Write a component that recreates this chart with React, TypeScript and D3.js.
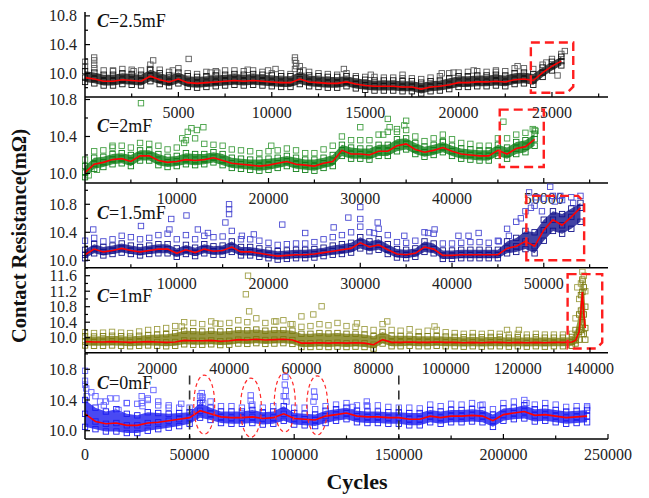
import { scaleLinear, line, area } from "d3";

const W = 649;
const H = 498;
const LEFT = 85;
const RIGHT = 608;
const SERIF = "'Liberation Serif', 'Times New Roman', serif";

// ---- C = 2.5 mF (sampled every 500 cycles) ----
const c25Step = 500;
const c25Mean = [
  9.94, 9.92, 9.89, 9.89, 9.91, 9.9, 9.89, 9.96, 9.91, 9.88,
  9.92, 9.87, 9.86, 9.87, 9.88, 9.89, 9.9, 9.89, 9.9, 9.89,
  9.88, 9.87, 9.87, 9.92, 9.88, 9.87, 9.86, 9.86, 9.88, 9.85,
  9.83, 9.82, 9.82, 9.82, 9.81, 9.81, 9.78, 9.81, 9.82, 9.84,
  9.87, 9.87, 9.88, 9.88, 9.89, 9.88, 9.91, 9.92, 9.9, 10.01,
  10.1, 10.17,
];
const c25Lo = [
  9.88, 9.86, 9.83, 9.83, 9.85, 9.84, 9.83, 9.89, 9.85, 9.82,
  9.86, 9.81, 9.8, 9.81, 9.82, 9.83, 9.84, 9.83, 9.84, 9.83,
  9.82, 9.81, 9.81, 9.85, 9.82, 9.81, 9.8, 9.8, 9.82, 9.79,
  9.77, 9.76, 9.76, 9.76, 9.75, 9.75, 9.72, 9.75, 9.76, 9.78,
  9.81, 9.81, 9.82, 9.82, 9.83, 9.82, 9.85, 9.86, 9.84, 9.95,
  10.04, 10.11,
];
const c25Hi = [
  10.03, 10.01, 9.98, 9.98, 10.0, 9.99, 9.98, 10.05, 10.0, 9.97,
  10.01, 9.96, 9.95, 9.96, 9.97, 9.98, 9.99, 9.98, 9.99, 9.98,
  9.97, 9.96, 9.96, 10.02, 9.97, 9.96, 9.95, 9.95, 9.96, 9.93,
  9.91, 9.9, 9.9, 9.9, 9.89, 9.89, 9.87, 9.89, 9.9, 9.93,
  9.96, 9.96, 9.97, 9.97, 9.98, 9.97, 10.0, 10.01, 9.99, 10.08,
  10.16, 10.23,
];
const c25Top = [
  10.1, 10.07, 10.04, 10.03, 10.06, 10.05, 10.04, 10.12, 10.05, 10.02,
  10.07, 10.0, 9.99, 10.02, 10.03, 10.04, 10.04, 10.03, 10.04, 10.02,
  10.0, 10.0, 9.99, 10.1, 10.02, 10.0, 9.99, 9.98, 10.0, 9.96,
  9.95, 9.95, 9.94, 9.94, 9.93, 9.93, 9.92, 9.94, 9.96, 10.0,
  10.01, 10.02, 10.03, 10.02, 10.04, 10.03, 10.07, 10.07, 10.06, 10.12,
  10.2, 10.27,
];
const c25Out = [
  [0, 10.16], [490, 10.22], [490, 10.18], [490, 10.12], [1500, 10.04], [2600, 10.03],
  [3470, 10.06], [3650, 10.18], [4700, 10.04], [5550, 10.2], [6720, 10.01], [7080, 10.01],
  [8710, 10.05], [9800, 10.04], [10200, 10.06], [11240, 10.22], [11240, 10.18], [11300, 10.14],
  [11300, 10.1], [11240, 10.06], [11690, 10.04], [13860, 10.06], [15300, 9.98], [17000, 9.98],
  [19100, 10.0], [19730, 10.01], [20810, 10.04], [22000, 10.02], [23160, 10.1], [24700, 10.15],
  [25300, 9.97], [25690, 10.31],
];
const c25Box = [23870, 26140, 10.43, 9.73];

// ---- C = 2 mF (every 1000 cycles) ----
const c2Step = 1000;
const c2Mean = [
  10.01, 10.1, 10.12, 10.15, 10.16, 10.13, 10.19, 10.19, 10.14, 10.12,
  10.13, 10.15, 10.14, 10.15, 10.17, 10.14, 10.11, 10.1, 10.09, 10.08,
  10.09, 10.11, 10.13, 10.1, 10.09, 10.08, 10.11, 10.13, 10.25, 10.21,
  10.21, 10.2, 10.24, 10.24, 10.3, 10.32, 10.26, 10.23, 10.25, 10.28,
  10.24, 10.21, 10.2, 10.19, 10.19, 10.25, 10.21, 10.27, 10.29, 10.37,
];
const c2Lo = [
  9.96, 10.05, 10.07, 10.1, 10.11, 10.08, 10.14, 10.14, 10.09, 10.07,
  10.08, 10.1, 10.09, 10.1, 10.12, 10.09, 10.06, 10.05, 10.04, 10.03,
  10.04, 10.06, 10.08, 10.05, 10.04, 10.03, 10.06, 10.08, 10.19, 10.16,
  10.16, 10.15, 10.19, 10.19, 10.24, 10.26, 10.21, 10.18, 10.2, 10.23,
  10.19, 10.16, 10.15, 10.14, 10.14, 10.19, 10.16, 10.21, 10.23, 10.3,
];
const c2Hi = [
  10.08, 10.17, 10.18, 10.21, 10.22, 10.2, 10.25, 10.25, 10.21, 10.18,
  10.19, 10.22, 10.21, 10.21, 10.23, 10.21, 10.17, 10.16, 10.15, 10.15,
  10.16, 10.17, 10.19, 10.17, 10.15, 10.15, 10.17, 10.2, 10.31, 10.28,
  10.27, 10.27, 10.31, 10.31, 10.37, 10.38, 10.33, 10.29, 10.31, 10.34,
  10.3, 10.27, 10.26, 10.25, 10.25, 10.31, 10.28, 10.34, 10.36, 10.43,
];
const c2Top = [
  10.15, 10.24, 10.25, 10.28, 10.3, 10.28, 10.33, 10.32, 10.3, 10.26,
  10.28, 10.36, 10.38, 10.32, 10.31, 10.3, 10.26, 10.25, 10.24, 10.22,
  10.24, 10.25, 10.27, 10.25, 10.22, 10.22, 10.26, 10.3, 10.4, 10.36,
  10.36, 10.36, 10.42, 10.45, 10.48, 10.47, 10.4, 10.35, 10.38, 10.42,
  10.37, 10.33, 10.32, 10.3, 10.3, 10.38, 10.38, 10.42, 10.44, 10.47,
];
const c2Out = [
  [400, 9.98], [1300, 10.04], [3000, 10.3], [6100, 10.76], [10600, 10.38], [10800, 10.33],
  [11200, 10.45], [11600, 10.49], [12200, 10.47], [12900, 10.5], [20300, 10.3], [30000, 10.5],
  [32500, 10.42], [33000, 10.59], [33200, 10.5], [34000, 10.45], [34800, 10.52], [35000, 10.57],
  [39000, 10.35], [45600, 10.56], [48800, 10.48], [49100, 10.46],
];
const c2Box = [45200, 50000, 10.69, 10.07];

// ---- C = 1.5 mF (every 1000 cycles) ----
const c15Step = 1000;
const c15Mean = [
  10.08, 10.16, 10.12, 10.14, 10.17, 10.14, 10.12, 10.14, 10.16, 10.16,
  10.1, 10.15, 10.11, 10.16, 10.13, 10.14, 10.19, 10.12, 10.12, 10.1,
  10.08, 10.06, 10.07, 10.08, 10.08, 10.09, 10.11, 10.13, 10.15, 10.17,
  10.25, 10.19, 10.22, 10.15, 10.09, 10.08, 10.1, 10.19, 10.16, 10.07,
  10.07, 10.08, 10.08, 10.08, 10.08, 10.08, 10.17, 10.2, 10.27, 10.2,
  10.43, 10.58, 10.5, 10.62, 10.75,
];
const c15Lo = [
  10.03, 10.1, 10.07, 10.09, 10.11, 10.09, 10.07, 10.09, 10.1, 10.1,
  10.05, 10.09, 10.06, 10.1, 10.08, 10.08, 10.12, 10.07, 10.07, 10.05,
  10.03, 10.01, 10.02, 10.03, 10.03, 10.04, 10.06, 10.08, 10.09, 10.11,
  10.17, 10.13, 10.15, 10.09, 10.04, 10.03, 10.05, 10.12, 10.1, 10.02,
  10.02, 10.03, 10.03, 10.03, 10.03, 10.03, 10.1, 10.12, 10.16, 10.1,
  10.28, 10.42, 10.38, 10.45, 10.55,
];
const c15Hi = [
  10.15, 10.23, 10.19, 10.21, 10.24, 10.21, 10.19, 10.21, 10.23, 10.23,
  10.17, 10.22, 10.18, 10.23, 10.2, 10.21, 10.27, 10.19, 10.19, 10.17,
  10.15, 10.13, 10.14, 10.15, 10.15, 10.16, 10.18, 10.21, 10.23, 10.25,
  10.33, 10.27, 10.3, 10.23, 10.16, 10.15, 10.17, 10.27, 10.24, 10.14,
  10.14, 10.15, 10.15, 10.15, 10.15, 10.15, 10.27, 10.32, 10.42, 10.4,
  10.58, 10.7, 10.66, 10.74, 10.82,
];
const c15Top = [
  10.28, 10.32, 10.27, 10.3, 10.35, 10.33, 10.3, 10.32, 10.36, 10.38,
  10.3, 10.36, 10.3, 10.35, 10.33, 10.34, 10.42, 10.3, 10.3, 10.28,
  10.25, 10.22, 10.23, 10.24, 10.24, 10.26, 10.3, 10.33, 10.36, 10.4,
  10.48, 10.4, 10.45, 10.36, 10.26, 10.25, 10.28, 10.4, 10.38, 10.24,
  10.24, 10.25, 10.26, 10.26, 10.25, 10.28, 10.45, 10.55, 10.7, 10.78,
  10.88, 10.92, 10.86, 10.9, 10.92,
];
const c15Out = [
  [900, 10.44], [6100, 10.49], [9200, 10.44], [9400, 10.59], [11060, 10.64], [12300, 10.44],
  [13400, 10.39], [15300, 10.54], [15700, 10.8], [15700, 10.73], [15700, 10.66], [17100, 10.35],
  [18400, 10.37], [21500, 10.51], [24000, 10.39], [27100, 10.47], [28700, 10.61], [30000, 10.76],
  [30000, 10.59], [31500, 10.39], [31900, 10.54], [34800, 10.35], [37400, 10.39], [38100, 10.44],
  [40700, 10.35], [41800, 10.35], [42900, 10.39], [45100, 10.27], [46200, 10.35], [48400, 10.97],
  [49200, 10.9], [50700, 11.05], [51800, 10.92], [53200, 10.82], [47500, 10.6], [48600, 10.75],
  [49800, 10.7], [51200, 10.84],
];
const c15Box = [48100, 54400, 10.92, 10.0];

// ---- C = 1 mF (every 2500 cycles, then the failure spike) ----
const c1Step = 2500;
const c1Mean = [
  9.9, 9.89, 9.89, 9.9, 9.89, 9.88, 9.89, 9.9, 9.89, 9.88,
  9.89, 9.93, 9.92, 9.92, 9.93, 9.91, 9.92, 9.95, 9.94, 9.96,
  9.94, 9.95, 9.96, 9.94, 9.86, 9.86, 9.87, 9.86, 9.87, 9.86,
  9.87, 9.86, 9.82, 9.95, 9.88, 9.88, 9.89, 9.88, 9.88, 9.89,
  9.88, 9.88, 9.87, 9.88, 9.87, 9.88, 9.88, 9.87, 9.88, 9.87,
  9.88, 9.87, 9.88, 9.88, 9.89,
];
const c1Lo = [
  9.8, 9.79, 9.79, 9.8, 9.79, 9.78, 9.79, 9.8, 9.79, 9.78,
  9.79, 9.83, 9.82, 9.82, 9.83, 9.81, 9.82, 9.85, 9.84, 9.86,
  9.84, 9.85, 9.86, 9.84, 9.76, 9.76, 9.77, 9.76, 9.77, 9.76,
  9.77, 9.76, 9.72, 9.85, 9.78, 9.78, 9.79, 9.78, 9.78, 9.79,
  9.78, 9.78, 9.77, 9.78, 9.77, 9.78, 9.78, 9.77, 9.78, 9.77,
  9.78, 9.77, 9.78, 9.78, 9.79,
];
const c1Hi = [
  10.04, 10.03, 10.04, 10.05, 10.04, 10.03, 10.05, 10.07, 10.08, 10.09,
  10.12, 10.18, 10.17, 10.16, 10.18, 10.16, 10.17, 10.2, 10.19, 10.21,
  10.18, 10.2, 10.2, 10.18, 10.1, 10.1, 10.12, 10.11, 10.12, 10.1,
  10.1, 10.08, 10.04, 10.15, 10.05, 10.05, 10.05, 10.04, 10.04, 10.04,
  10.03, 10.02, 10.01, 10.02, 10.01, 10.02, 10.02, 10.0, 10.01, 10.0,
  10.01, 10.0, 10.0, 10.0, 10.02,
];
const c1Top = [
  10.14, 10.12, 10.13, 10.15, 10.13, 10.12, 10.16, 10.2, 10.22, 10.25,
  10.3, 10.4, 10.38, 10.35, 10.42, 10.36, 10.38, 10.45, 10.4, 10.5,
  10.38, 10.42, 10.45, 10.35, 10.28, 10.3, 10.35, 10.32, 10.38, 10.3,
  10.28, 10.22, 10.2, 10.35, 10.2, 10.18, 10.22, 10.15, 10.18, 10.2,
  10.14, 10.12, 10.1, 10.12, 10.1, 10.12, 10.1, 10.08, 10.1, 10.08,
  10.1, 10.08, 10.08, 10.08, 10.1,
];
const c1SpikeCycles = [136000, 137000, 137500, 137900, 138300, 138700];
const c1SpikeMean = [9.93, 10.15, 10.7, 11.18, 10.6, 10.25];
const c1SpikeLo = [9.85, 9.95, 10.2, 10.4, 10.1, 9.95];
const c1SpikeHi = [10.2, 10.6, 11.1, 11.5, 11.3, 10.8];
const c1SpikeTop = [10.5, 11.0, 11.4, 11.7, 11.6, 11.2];
const c1Out = [
  [26800, 10.29], [36200, 10.37], [44600, 11.12], [45200, 11.6], [45500, 10.68], [53000, 10.42],
  [57000, 10.35], [60000, 10.55], [63300, 10.6], [65600, 10.81], [75400, 10.37], [83800, 10.42],
  [96900, 10.29], [117000, 10.2], [120300, 10.2], [136500, 11.3], [138000, 11.45],
];
const c1Box = [133800, 143400, 11.64, 9.72];

// ---- C = 0 mF (every 5000 cycles) ----
const c0Step = 5000;
const c0Mean = [
  10.22, 10.12, 10.09, 10.1, 10.07, 10.07, 10.1, 10.11, 10.13, 10.15,
  10.17, 10.26, 10.22, 10.18, 10.17, 10.17, 10.18, 10.16, 10.17, 10.22,
  10.16, 10.15, 10.14, 10.19, 10.21, 10.23, 10.19, 10.18, 10.18, 10.17,
  10.17, 10.15, 10.15, 10.19, 10.17, 10.19, 10.19, 10.2, 10.19, 10.13,
  10.21, 10.23, 10.25, 10.2, 10.21, 10.19, 10.17, 10.18, 10.19,
];
const c0Lo = [
  10.05, 10.02, 9.99, 9.99, 9.97, 9.97, 10.0, 10.02, 10.04, 10.06,
  10.09, 10.17, 10.14, 10.1, 10.09, 10.09, 10.1, 10.08, 10.09, 10.13,
  10.08, 10.07, 10.06, 10.1, 10.13, 10.15, 10.11, 10.1, 10.1, 10.09,
  10.09, 10.07, 10.07, 10.11, 10.09, 10.11, 10.11, 10.12, 10.11, 10.05,
  10.13, 10.15, 10.16, 10.12, 10.13, 10.11, 10.09, 10.1, 10.11,
];
const c0Hi = [
  10.4, 10.3, 10.25, 10.28, 10.22, 10.2, 10.24, 10.23, 10.22, 10.23,
  10.24, 10.36, 10.3, 10.25, 10.25, 10.25, 10.27, 10.24, 10.25, 10.32,
  10.23, 10.22, 10.21, 10.26, 10.28, 10.3, 10.26, 10.25, 10.25, 10.24,
  10.24, 10.23, 10.23, 10.27, 10.25, 10.27, 10.27, 10.28, 10.27, 10.21,
  10.29, 10.3, 10.33, 10.28, 10.29, 10.27, 10.25, 10.26, 10.27,
];
const c0Top = [
  10.6, 10.45, 10.38, 10.42, 10.36, 10.35, 10.42, 10.38, 10.33, 10.3,
  10.3, 10.45, 10.38, 10.32, 10.32, 10.3, 10.34, 10.3, 10.32, 10.45,
  10.3, 10.3, 10.28, 10.32, 10.34, 10.36, 10.33, 10.32, 10.33, 10.31,
  10.3, 10.3, 10.29, 10.34, 10.32, 10.35, 10.34, 10.36, 10.34, 10.28,
  10.36, 10.38, 10.4, 10.34, 10.36, 10.34, 10.31, 10.32, 10.32,
];
const c0Out = [
  [0, 10.78], [0, 10.65], [600, 10.55], [800, 10.45], [3000, 10.5], [7200, 10.38],
  [9000, 10.33], [12000, 10.42], [16000, 10.27], [20000, 10.36], [27100, 10.45], [27100, 10.36],
  [27500, 10.32], [30000, 10.4], [32700, 10.53], [35000, 10.33], [40000, 10.3], [46000, 10.35],
  [55800, 10.49], [56200, 10.44], [55800, 10.4], [56500, 10.36], [79200, 10.46], [79200, 10.39],
  [79600, 10.32], [95800, 10.7], [95500, 10.6], [96000, 10.52], [95800, 10.45], [96300, 10.38],
  [109500, 10.51], [109800, 10.44], [109200, 10.38], [128000, 10.31], [134700, 10.38],
  [134700, 10.33], [189000, 10.33], [211000, 10.36], [240000, 10.3],
];
const c0Rings = [[57000, 10.34], [79300, 10.3], [95500, 10.37], [111000, 10.33]];
const ringHalfCycles = 5000;
const ringHalfRes = 0.385;
const c0Marks = [50000, 150000];
const c0MarkTop = 10.72;

// tick labels
const c25XLabels = [5000, 10000, 15000, 20000, 25000];
const c2XLabels = [10000, 20000, 30000, 40000, 50000];
const c1XLabels = [20000, 40000, 60000, 80000, 100000, 120000, 140000];
const c0XLabels = [0, 50000, 100000, 150000, 200000, 250000];

const cyclesOf = (vals: number[], step: number) => vals.map((_, i) => i * step);

interface PanelDef {
  cap: string;
  top: number;
  bottom: number;
  capY: number;
  xMax: number;
  yMin: number;
  yMax: number;
  xMinor: number;
  xMajor: number;
  xLabels: number[];
  cycles: number[];
  mean: number[];
  lo: number[];
  hi: number[];
  upper: number[];
  outliers: number[][];
  box?: number[];
  cut?: "br" | "tr";
  core: string;
  light: string;
}

const panels: PanelDef[] = [
  {
    cap: "2.5mF", top: 12, bottom: 97, capY: 27, xMax: 28000, yMin: 9.67, yMax: 10.854,
    xMinor: 2500, xMajor: 5000, xLabels: c25XLabels,
    cycles: cyclesOf(c25Mean, c25Step), mean: c25Mean, lo: c25Lo, hi: c25Hi, upper: c25Top,
    outliers: c25Out, box: c25Box, cut: "br", core: "#141414", light: "#5a5a5a",
  },
  {
    cap: "2mF", top: 97, bottom: 183, capY: 132, xMax: 57000, yMin: 9.897, yMax: 10.827,
    xMinor: 5000, xMajor: 10000, xLabels: c2XLabels,
    cycles: cyclesOf(c2Mean, c2Step), mean: c2Mean, lo: c2Lo, hi: c2Hi, upper: c2Top,
    outliers: c2Out, box: c2Box, core: "#12801a", light: "#44a044",
  },
  {
    cap: "1.5mF", top: 183, bottom: 267.8, capY: 218.5, xMax: 57000, yMin: 9.893, yMax: 11.104,
    xMinor: 5000, xMajor: 10000, xLabels: c2XLabels,
    cycles: cyclesOf(c15Mean, c15Step), mean: c15Mean, lo: c15Lo, hi: c15Hi, upper: c15Top,
    outliers: c15Out, box: c15Box, cut: "tr", core: "#14148c", light: "#4a4ad2",
  },
  {
    cap: "1mF", top: 267.8, bottom: 352.7, capY: 302, xMax: 145000, yMin: 9.613, yMax: 11.804,
    xMinor: 10000, xMajor: 20000, xLabels: c1XLabels,
    cycles: cyclesOf(c1Mean, c1Step).concat(c1SpikeCycles),
    mean: c1Mean.concat(c1SpikeMean), lo: c1Lo.concat(c1SpikeLo), hi: c1Hi.concat(c1SpikeHi),
    upper: c1Top.concat(c1SpikeTop), outliers: c1Out, box: c1Box, cut: "br",
    core: "#7c7c12", light: "#a0a048",
  },
  {
    cap: "0mF", top: 352.7, bottom: 439, capY: 388.5, xMax: 250000, yMin: 9.892, yMax: 11.016,
    xMinor: 25000, xMajor: 50000, xLabels: c0XLabels,
    cycles: cyclesOf(c0Mean, c0Step), mean: c0Mean, lo: c0Lo, hi: c0Hi, upper: c0Top,
    outliers: c0Out, core: "#1c1cf0", light: "#6060ff",
  },
];

function Panel({ p, idx }: { p: PanelDef; idx: number }) {
  const x = scaleLinear().domain([0, p.xMax]).range([LEFT, RIGHT]);
  const y = scaleLinear().domain([p.yMin, p.yMax]).range([p.bottom, p.top]);
  const sq = 5.4;

  const band = area<number>()
    .x((_, i) => x(p.cycles[i]))
    .y0((_, i) => y(p.lo[i]))
    .y1((d) => y(d));
  const meanLine = line<number>()
    .x((_, i) => x(p.cycles[i]))
    .y((d) => y(d));

  const yTicks: number[] = [];
  for (let k = Math.ceil(p.yMin * 5); k <= Math.floor(p.yMax * 5); k++) yTicks.push(k);
  const xTicks: number[] = [];
  for (let v = p.xMinor; v <= p.xMax; v += p.xMinor) xTicks.push(v);

  const square = (cx: number, cy: number, color: string, key: string, w = 0.9) => (
    <rect
      key={key}
      x={x(cx) - sq / 2}
      y={y(cy) - sq / 2}
      width={sq}
      height={sq}
      fill="none"
      stroke={color}
      strokeWidth={w}
    />
  );

  let boxPath = "";
  if (p.box) {
    const [c0, c1, v0, v1] = p.box;
    const bx0 = x(c0), bx1 = x(c1), by0 = y(v0), by1 = y(v1);
    const k = 6;
    if (p.cut === "br")
      boxPath = `M${bx0},${by0}H${bx1}V${by1 - k}L${bx1 - k},${by1}H${bx0}Z`;
    else if (p.cut === "tr")
      boxPath = `M${bx0},${by1}V${by0}H${bx1 - k}L${bx1},${by0 + k}V${by1}Z`;
    else boxPath = `M${bx0},${by0}H${bx1}V${by1}H${bx0}Z`;
  }

  const clipId = `clip${idx}`;
  return (
    <g>
      <clipPath id={clipId}>
        <rect x={LEFT - 3} y={p.top} width={RIGHT - LEFT + 3} height={p.bottom - p.top} />
      </clipPath>
      <g clipPath={`url(#${clipId})`}>
        <path d={band(p.hi) ?? ""} fill={p.core} opacity={0.8} />
        {p.cycles.map((c, i) => square(c, p.upper[i], p.light, `u${i}`))}
        {p.outliers.map(([c, v], i) => square(c, v, p.light, `o${i}`))}
        {p.cycles.map((c, i) => square(c, p.hi[i], p.core, `h${i}`))}
        {p.cycles.map((c, i) => square(c, p.lo[i], p.core, `l${i}`))}
        {p.cycles.map((c, i) => square(c, p.mean[i], p.core, `m${i}`))}
        <path d={meanLine(p.mean) ?? ""} fill="none" stroke="#ff0000" strokeWidth={1.6} />
      </g>

      {idx === 4 &&
        c0Marks.map((c) => (
          <line
            key={c}
            x1={x(c)}
            x2={x(c)}
            y1={y(c0MarkTop)}
            y2={p.bottom}
            stroke="#333"
            strokeWidth={1.6}
            strokeDasharray="9 6"
          />
        ))}
      {idx === 4 &&
        c0Rings.map(([c, v]) => (
          <ellipse
            key={c}
            cx={x(c)}
            cy={y(v)}
            rx={x(ringHalfCycles) - x(0)}
            ry={y(0) - y(ringHalfRes)}
            fill="none"
            stroke="#ff2a2a"
            strokeWidth={1.2}
            strokeDasharray="4 3"
          />
        ))}
      {boxPath && (
        <path d={boxPath} fill="none" stroke="#ff1e1e" strokeWidth={2.4} strokeDasharray="9 5" />
      )}

      {/* axes */}
      <line x1={LEFT} x2={LEFT} y1={p.top} y2={p.bottom} stroke="#000" strokeWidth={1.5} />
      <line x1={LEFT} x2={RIGHT} y1={p.bottom} y2={p.bottom} stroke="#000" strokeWidth={1.5} />
      {yTicks.map((k) => {
        const major = k % 2 === 0;
        const ty = y(k / 5);
        return (
          <g key={k}>
            <line x1={LEFT} x2={LEFT + (major ? 5 : 3)} y1={ty} y2={ty} stroke="#000" strokeWidth={1.2} />
            {major && (
              <text
                x={LEFT - 8}
                y={ty}
                dy="0.35em"
                textAnchor="end"
                fontFamily={SERIF}
                fontSize={16}
                fill="#222"
              >
                {(k / 5).toFixed(1)}
              </text>
            )}
          </g>
        );
      })}
      {xTicks.map((v) => {
        const major = v % p.xMajor === 0;
        return (
          <line
            key={v}
            x1={x(v)}
            x2={x(v)}
            y1={p.bottom}
            y2={p.bottom - (major ? 5 : 3.5)}
            stroke="#000"
            strokeWidth={1.2}
          />
        );
      })}
      {p.xLabels.map((v) => (
        <text
          key={v}
          x={x(v)}
          y={p.bottom + 21}
          textAnchor="middle"
          fontFamily={SERIF}
          fontSize={16}
          fill="#222"
        >
          {v}
        </text>
      ))}
      <text x={97} y={p.capY} fontFamily={SERIF} fontSize={18} fill="#111">
        <tspan fontWeight="bold" fontStyle="italic">C</tspan>={p.cap}
      </text>
    </g>
  );
}

export default function App() {
  return (
    <svg
      width={W}
      height={H}
      style={{ position: "absolute", left: 0, top: 0, background: "#fff" }}
    >
      {panels.map((p, i) => (
        <Panel key={p.cap} p={p} idx={i} />
      ))}
      <text
        transform="translate(26,236) rotate(-90)"
        textAnchor="middle"
        fontFamily={SERIF}
        fontWeight="bold"
        fontSize={20.5}
        fill="#111"
      >
        Contact Resistance(mΩ)
      </text>
      <text
        x={357}
        y={489}
        textAnchor="middle"
        fontFamily={SERIF}
        fontWeight="bold"
        fontSize={22}
        fill="#111"
      >
        Cycles
      </text>
    </svg>
  );
}
